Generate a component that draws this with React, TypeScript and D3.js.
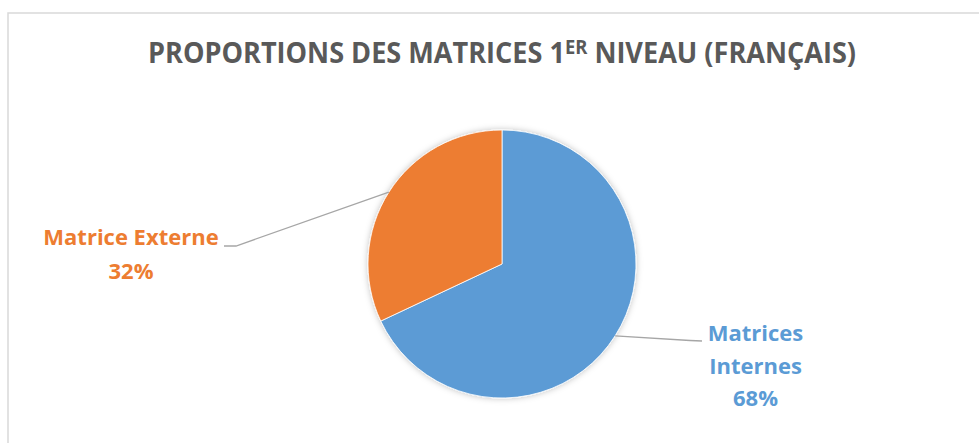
import React from "react";
import * as d3 from "d3";

const categories = ["Matrices Internes", "Matrice Externe"];
const values = [68, 32];
const colors = ["#5B9BD5", "#ED7D31"];

const W = 979;
const H = 443;
const cx = 502;
const cy = 264;
const R = 134;
const FONT = "'Open Sans', 'Noto Sans', sans-serif";

export default function App() {
  const pie = d3
    .pie<number>()
    .sort(null)
    .value((d) => d)
    .startAngle(0)
    .endAngle(2 * Math.PI);
  const arcs = pie(values);
  const arc = d3.arc<d3.PieArcDatum<number>>().innerRadius(0).outerRadius(R);
  const total = d3.sum(values);

  const edgePoint = (a: d3.PieArcDatum<number>, r: number) => {
    const m = (a.startAngle + a.endAngle) / 2;
    return [cx + r * Math.sin(m), cy - r * Math.cos(m)];
  };

  const pBlue = edgePoint(arcs[0], R);
  const pOrange = edgePoint(arcs[1], R);
  const line = d3.line();

  const pct = (v: number) => `${Math.round((v / total) * 100)}%`;

  return (
    <svg
      width={W}
      height={H}
      style={{ position: "absolute", left: 0, top: 0, background: "#fff" }}
    >
      <defs>
        <filter id="sh" x="-20%" y="-20%" width="140%" height="140%">
          <feDropShadow dx="0" dy="0" stdDeviation="3" floodColor="#000" floodOpacity="0.25" />
        </filter>
      </defs>
      <rect x={0} y={0} width={W} height={H} fill="#fff" />
      <rect x={8} y={13} width={W + 20} height={H + 20} fill="#fff" stroke="#d9d9d9" strokeWidth={1.5} />
      <text
        x={502}
        y={63}
        textAnchor="middle"
        fontFamily={FONT}
        fontWeight={700}
        fontSize={28}
        fill="#595959"
        textLength={708}
        lengthAdjust="spacingAndGlyphs"
      >
        PROPORTIONS DES MATRICES 1
        <tspan fontSize={19} dy={-9}>ER</tspan>
        <tspan dy={9}> NIVEAU (FRANÇAIS)</tspan>
      </text>

      <g filter="url(#sh)">
        {arcs.map((a, i) => (
          <path
            key={i}
            d={arc(a) || ""}
            transform={`translate(${cx},${cy})`}
            fill={colors[i]}
            stroke="#fff"
            strokeWidth={0.8}
          />
        ))}
      </g>

      <path
        d={line([[pOrange[0], pOrange[1]] as [number, number], [236, 246], [224, 246]]) || ""}
        fill="none"
        stroke="#a6a6a6"
        strokeWidth={1.3}
      />
      <path
        d={line([[pBlue[0], pBlue[1]] as [number, number], [690, 340.5], [702, 341]]) || ""}
        fill="none"
        stroke="#a6a6a6"
        strokeWidth={1.3}
      />

      <text textAnchor="middle" fontFamily={FONT} fontWeight={700} fontSize={22} fill={colors[1]}>
        <tspan x={131} y={245}>{categories[1]}</tspan>
        <tspan x={131} y={279}>{pct(values[1])}</tspan>
      </text>
      <text textAnchor="middle" fontFamily={FONT} fontWeight={700} fontSize={22} fill={colors[0]}>
        <tspan x={755.5} y={341}>Matrices</tspan>
        <tspan x={755.5} y={374}>Internes</tspan>
        <tspan x={755.5} y={406}>{pct(values[0])}</tspan>
      </text>
    </svg>
  );
}
